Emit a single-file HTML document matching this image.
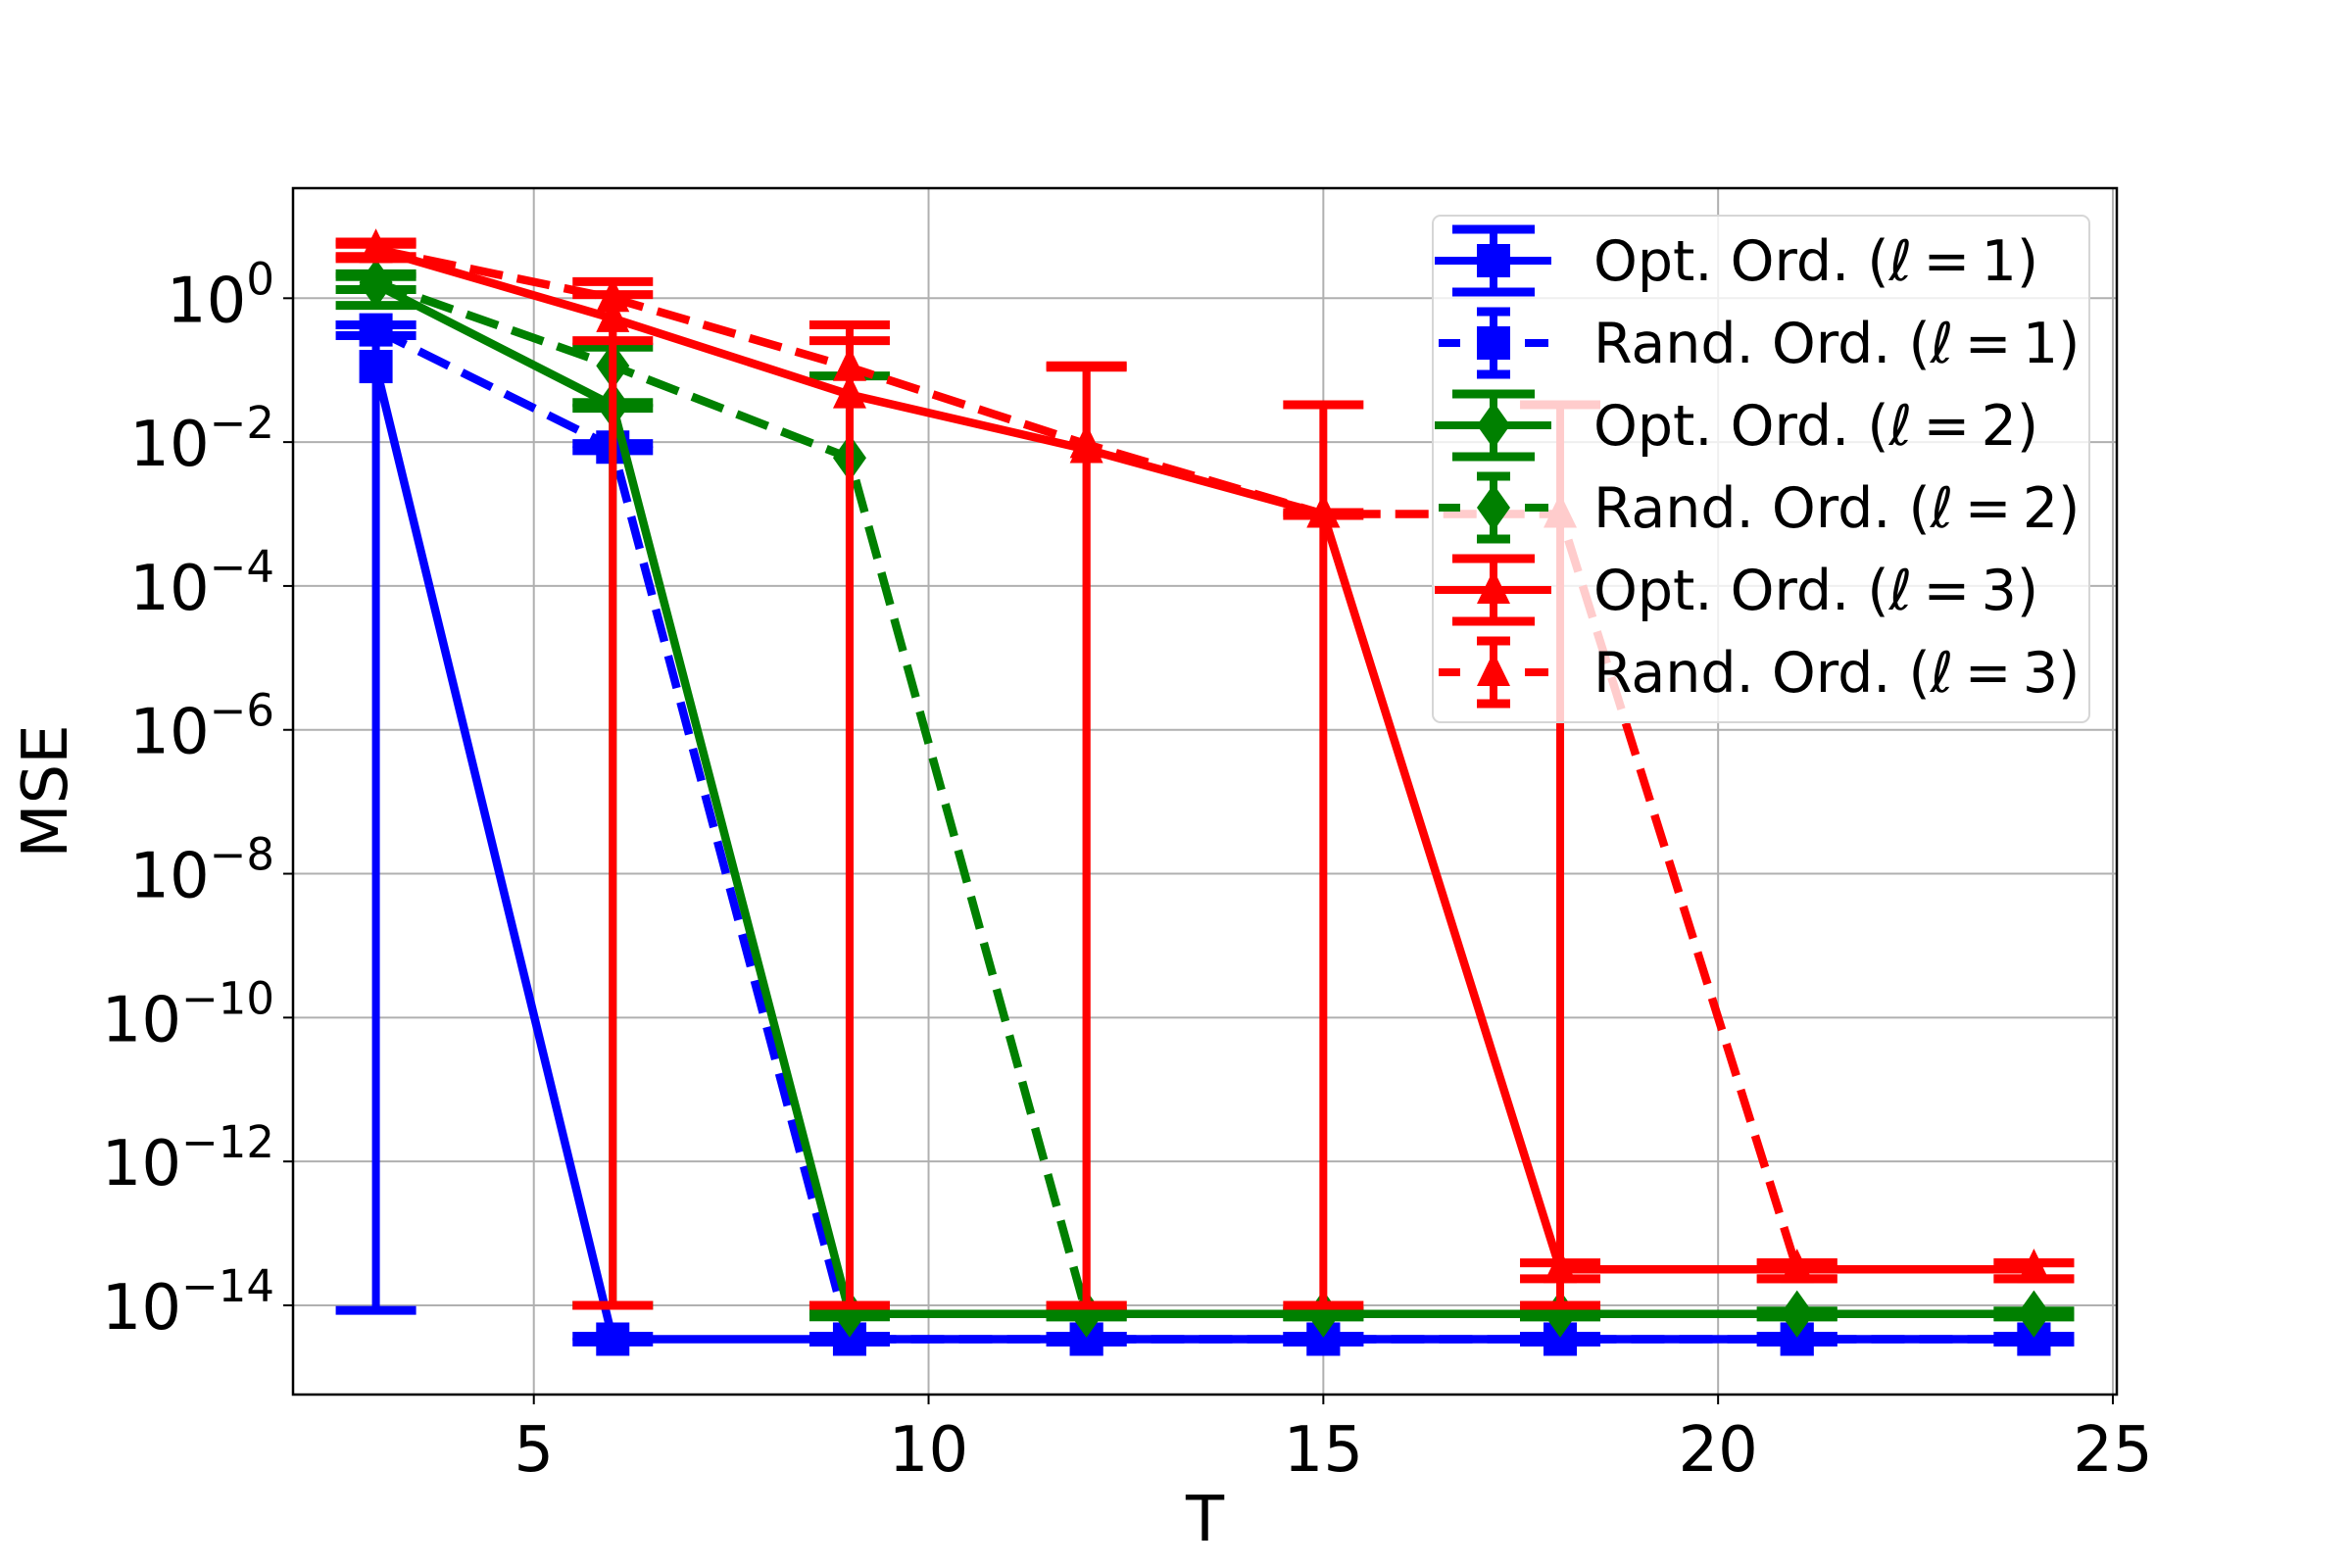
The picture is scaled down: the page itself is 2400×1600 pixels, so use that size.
<!DOCTYPE html>
<html><head><meta charset="utf-8">
<style>
html,body{margin:0;padding:0;background:#fff;}
svg{display:block;font-family:"DejaVu Sans","Liberation Sans",sans-serif;}
</style></head>
<body>
<svg id="chart" width="2400" height="1600" viewBox="0 0 2400 1600" xmlns="http://www.w3.org/2000/svg">
<rect x="0" y="0" width="2400" height="1600" fill="#fff"/>
<g id="grid"></g>
<g id="series"></g>
<g id="axes"></g>
<g id="legend"></g>
</svg>
<script>
// ---- data (values are log10 of MSE) ----
const tValues = [3, 6, 9, 12, 15, 18, 21, 24];
const xTicks = [5, 10, 15, 20, 25];
const yTickExps = [0, -2, -4, -6, -8, -10, -12, -14];

const blueOptMean  = [-0.95, -14.47, -14.47, -14.47, -14.47, -14.47, -14.47, -14.47];
const blueOptUpper = [-0.37, -14.43, -14.43, -14.43, -14.43, -14.43, -14.43, -14.43];
const blueOptLower = [-14.07, -14.51, -14.51, -14.51, -14.51, -14.51, -14.51, -14.51];

const blueRandMean  = [-0.44, -2.07, -14.47, -14.47, -14.47, -14.47, -14.47, -14.47];
const blueRandUpper = [-0.37, -2.02, -14.43, -14.43, -14.43, -14.43, -14.43, -14.43];
const blueRandLower = [-0.52, -2.12, -14.51, -14.51, -14.51, -14.51, -14.51, -14.51];

const greenOptMean  = [0.19, -1.49, -14.12, -14.12, -14.12, -14.12, -14.12, -14.12];
const greenOptUpper = [0.34, -1.45, -14.08, -14.08, -14.08, -14.08, -14.08, -14.08];
const greenOptLower = [-0.10, -1.53, -14.16, -14.16, -14.16, -14.16, -14.16, -14.16];

const greenRandMean  = [0.22, -0.94, -2.22, -14.12, -14.12, -14.12, -14.12, -14.12];
const greenRandUpper = [0.30, -0.68, -1.08, -14.08, -14.08, -14.08, -14.08, -14.08];
const greenRandLower = [0.12, -14.0, -14.0, -14.16, -14.16, -14.16, -14.16, -14.16];

const redOptMean  = [0.68, -0.28, -1.34, -2.10, -3.00, -13.50, -13.50, -13.50];
const redOptUpper = [0.75, 0.05, -0.59, -0.96, -1.48, -13.41, -13.41, -13.41];
const redOptLower = [0.55, -14.0, -14.0, -14.0, -14.0, -13.63, -13.63, -13.63];

const redRandMean  = [0.68, 0.00, -0.96, -2.03, -3.00, -3.00, -13.50, -13.50];
const redRandUpper = [0.78, 0.23, -0.37, -0.94, -2.98, -1.48, -13.41, -13.41];
const redRandLower = [0.58, -0.59, -14.0, -14.0, -3.02, -14.0, -13.63, -13.63];

const seriesPrefixes = ["Opt. Ord. (", "Rand. Ord. (", "Opt. Ord. (", "Rand. Ord. (", "Opt. Ord. (", "Rand. Ord. ("];
const seriesLevels = ["1", "1", "2", "2", "3", "3"];

// ---- layout ----
const L = 299, R = 2160, T = 192, B = 1423;
const xMin = 1.95, xMax = 25.05, yMin = -15.24, yMax = 1.53;
const NS = "http://www.w3.org/2000/svg";
function xs(v){ return L + (v - xMin) / (xMax - xMin) * (R - L); }
function ys(e){ return T + (yMax - e) / (yMax - yMin) * (B - T); }
function mk(tag, attrs, parent){
  const el = document.createElementNS(NS, tag);
  for (const k in attrs) el.setAttribute(k, attrs[k]);
  parent.appendChild(el); return el;
}

const grid = document.getElementById('grid');
xTicks.forEach(v => {
  const ln = mk('line', {x1: xs(v), x2: xs(v), y1: T, y2: B, stroke: '#b0b0b0', 'stroke-width': 2}, grid);
  
  
});
yTickExps.forEach(e => {
  const ln = mk('line', {x1: L, x2: R, y1: ys(e), y2: ys(e), stroke: '#b0b0b0', 'stroke-width': 2}, grid);
  
  
});

const seriesG = document.getElementById('series');
const LW = 8.5, DASH = '34 15';
function marker(type, cx, cy, color, parent){
  let el;
  if (type === 's') el = mk('rect', {x: cx - 17, y: cy - 17, width: 34, height: 34, fill: color}, parent);
  else if (type === 'D') el = mk('polygon', {points: `${cx},${cy-24} ${cx+17},${cy} ${cx},${cy+24} ${cx-17},${cy}`, fill: color}, parent);
  else el = mk('polygon', {points: `${cx},${cy-21} ${cx+17},${cy+14} ${cx-17},${cy+14}`, fill: color}, parent);
  return el;
}
function drawSeries(name, mean, upper, lower, color, dashed, mtype){
  const g = mk('g', {}, seriesG);
  
  
  const pts = tValues.map((t, i) => xs(t) + ',' + ys(mean[i])).join(' ');
  const pl = mk('polyline', {points: pts, fill: 'none', stroke: color, 'stroke-width': LW, 'stroke-linejoin': 'round'}, g);
  if (dashed) pl.setAttribute('stroke-dasharray', DASH);
  
  
  tValues.forEach((t, i) => {
    const x = xs(t);
    const bar = mk('line', {x1: x, x2: x, y1: ys(upper[i]), y2: ys(lower[i]), stroke: color, 'stroke-width': 8}, g);
    
    
    [upper[i], lower[i]].forEach(v => {
      const c = mk('line', {x1: x - 41, x2: x + 41, y1: ys(v), y2: ys(v), stroke: color, 'stroke-width': 9}, g);
      
      
    });
    const m = marker(mtype, x, ys(mean[i]), color, g);
    
    
  });
}
drawSeries('blue-opt-series', blueOptMean, blueOptUpper, blueOptLower, '#0000ff', false, 's');
drawSeries('blue-rand-series', blueRandMean, blueRandUpper, blueRandLower, '#0000ff', true, 's');
drawSeries('green-opt-series', greenOptMean, greenOptUpper, greenOptLower, '#008000', false, 'D');
drawSeries('green-rand-series', greenRandMean, greenRandUpper, greenRandLower, '#008000', true, 'D');
drawSeries('red-opt-series', redOptMean, redOptUpper, redOptLower, '#ff0000', false, '^');
drawSeries('red-rand-series', redRandMean, redRandUpper, redRandLower, '#ff0000', true, '^');

// ---- axes ----
const axes = document.getElementById('axes');
const frame = mk('rect', {x: L, y: T, width: R - L, height: B - T, fill: 'none', stroke: '#000', 'stroke-width': 2.5}, axes);


xTicks.forEach(v => {
  mk('line', {x1: xs(v), x2: xs(v), y1: B, y2: B + 10, stroke: '#000', 'stroke-width': 2}, axes);
  const tx = mk('text', {x: xs(v), y: B + 78, 'font-size': 64, 'text-anchor': 'middle', fill: '#000'}, axes);
  tx.textContent = String(v);
  
  
});
yTickExps.forEach(e => {
  mk('line', {x1: L - 10, x2: L, y1: ys(e), y2: ys(e), stroke: '#000', 'stroke-width': 2}, axes);
  const tx = mk('text', {x: 280, y: ys(e) + 24, 'font-size': 64, 'text-anchor': 'end', fill: '#000'}, axes);
  const base = mk('tspan', {}, tx); base.textContent = '10';
  const sup = mk('tspan', {dy: -28, 'font-size': 45}, tx);
  sup.textContent = (e < 0 ? '\u2212' + (-e) : String(e));
  
  
});
const xl = mk('text', {x: (L + R) / 2, y: 1585, 'font-size': 64, 'text-anchor': 'middle', fill: '#000'}, axes);
xl.setAttribute('y', 1572);
xl.textContent = 'T';


const yl = mk('text', {x: 68, y: (T + B) / 2, 'font-size': 64, 'text-anchor': 'middle', fill: '#000', transform: `rotate(-90 68 ${(T + B) / 2})`}, axes);
yl.textContent = 'MSE';



// ---- legend ----
const leg = document.getElementById('legend');
const box = mk('rect', {x: 1462, y: 220, width: 670, height: 517, rx: 8, fill: 'rgba(255,255,255,0.8)', stroke: '#d6d6d6', 'stroke-width': 2}, leg);


const legColors = ['#0000ff', '#0000ff', '#008000', '#008000', '#ff0000', '#ff0000'];
const legDashed = [false, true, false, true, false, true];
const legMarkers = ['s', 's', 'D', 'D', '^', '^'];
seriesPrefixes.forEach((pre, i) => {
  const cy = 266 + i * 84, cx = 1524, c = legColors[i];
  const g = mk('g', {}, leg);
  
  
  if (legDashed[i]) {
    mk('line', {x1: 1468, x2: 1490, y1: cy, y2: cy, stroke: c, 'stroke-width': 8}, g);
    mk('line', {x1: 1556, x2: 1580, y1: cy, y2: cy, stroke: c, 'stroke-width': 8}, g);
    mk('line', {x1: cx, x2: cx, y1: cy - 32, y2: cy + 32, stroke: c, 'stroke-width': 8}, g);
    mk('line', {x1: cx - 17, x2: cx + 17, y1: cy - 32, y2: cy - 32, stroke: c, 'stroke-width': 9}, g);
    mk('line', {x1: cx - 17, x2: cx + 17, y1: cy + 32, y2: cy + 32, stroke: c, 'stroke-width': 9}, g);
  } else {
    mk('line', {x1: 1464, x2: 1583, y1: cy, y2: cy, stroke: c, 'stroke-width': 8}, g);
    mk('line', {x1: cx, x2: cx, y1: cy - 32, y2: cy + 32, stroke: c, 'stroke-width': 8}, g);
    mk('line', {x1: cx - 42, x2: cx + 42, y1: cy - 32, y2: cy - 32, stroke: c, 'stroke-width': 9}, g);
    mk('line', {x1: cx - 42, x2: cx + 42, y1: cy + 32, y2: cy + 32, stroke: c, 'stroke-width': 9}, g);
  }
  marker(legMarkers[i], cx, cy, c, g);
  const tx = mk('text', {x: 1626, y: cy + 20, 'font-size': 57, fill: '#000'}, g);
  const t1 = mk('tspan', {}, tx); t1.textContent = pre;
  const t2 = mk('tspan', {'font-style': 'italic'}, tx); t2.textContent = '\u2113';
  const t3 = mk('tspan', {}, tx); t3.textContent = '\u2009=\u2009' + seriesLevels[i] + ')';
  
  
});
</script>
</body></html>
